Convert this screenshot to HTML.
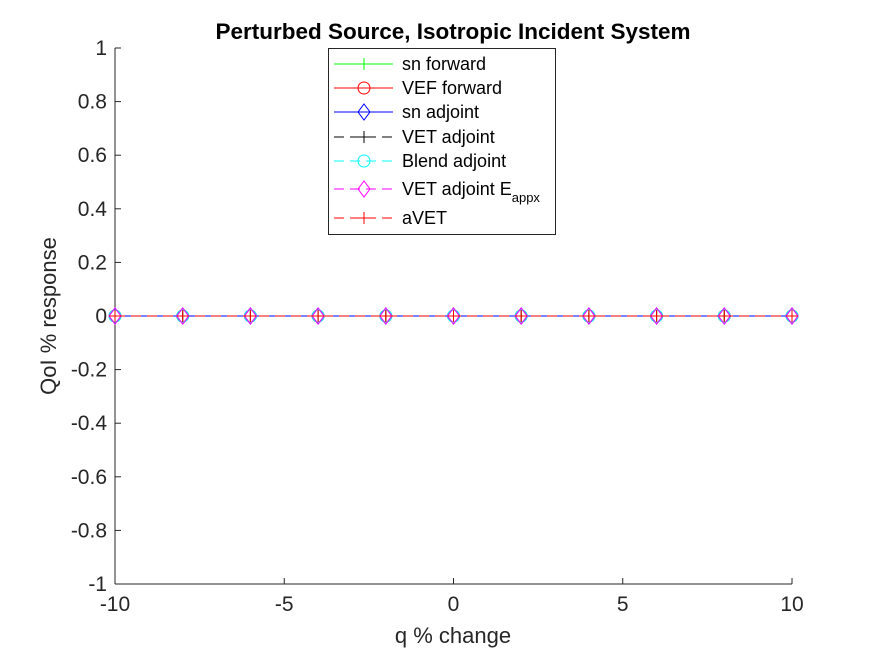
<!DOCTYPE html>
<html><head><meta charset="utf-8"><style>
body{margin:0;background:#fff}
svg{display:block;font-family:"Liberation Sans",sans-serif}
</style></head><body>
<svg id="c" width="875" height="656">
<rect width="875" height="656" fill="#fff"/>
<text x="453" y="39" font-size="22.5" font-weight="bold" text-anchor="middle">Perturbed Source, Isotropic Incident System</text>
<g id="axes"></g>
<g id="series"></g>
<g id="legend"></g>
<text x="453" y="643" font-size="22" text-anchor="middle" fill="#262626">q % change</text>
<text transform="translate(56,316) rotate(-90)" font-size="22" text-anchor="middle" fill="#262626">QoI % response</text>
</svg>
<script>
const xVals=[-10,-8,-6,-4,-2,0,2,4,6,8,10];
const snForward=[0,0,0,0,0,0,0,0,0,0,0];
const vefForward=[0,0,0,0,0,0,0,0,0,0,0];
const snAdjoint=[0,0,0,0,0,0,0,0,0,0,0];
const vetAdjoint=[0,0,0,0,0,0,0,0,0,0,0];
const blendAdjoint=[0,0,0,0,0,0,0,0,0,0,0];
const vetAdjointEappx=[0,0,0,0,0,0,0,0,0,0,0];
const aVET=[0,0,0,0,0,0,0,0,0,0,0];
const xTicks=[-10,-5,0,5,10];
const yTicks=[-1,-0.8,-0.6,-0.4,-0.2,0,0.2,0.4,0.6,0.8,1];
const xTickLabels=["-10","-5","0","5","10"];
const yTickLabels=["-1","-0.8","-0.6","-0.4","-0.2","0","0.2","0.4","0.6","0.8","1"];
const L=115,R=792,T=48,B=584;
const sx=v=>L+(v+10)/20*(R-L);
const sy=v=>B-(v+1)/2*(B-T);
const NS="http://www.w3.org/2000/svg";
function mk(t,a,p){const e=document.createElementNS(NS,t);for(const k in a)e.setAttribute(k,a[k]);p.appendChild(e);return e;}
const ax=document.getElementById('axes');
let e=mk('line',{x1:L,y1:B,x2:R,y2:B,stroke:'#262626'},ax);


e=mk('line',{x1:L,y1:T,x2:L,y2:B,stroke:'#262626'},ax);


xTicks.forEach((v,i)=>{const x=sx(v);mk('line',{x1:x,y1:B,x2:x,y2:B-6,stroke:'#262626'},ax);
const t=mk('text',{x:x,y:B+27,'font-size':21,'text-anchor':'middle',fill:'#262626'},ax);t.textContent=xTickLabels[i];

});
yTicks.forEach((v,i)=>{const y=sy(v);mk('line',{x1:L,y1:y,x2:L+6,y2:y,stroke:'#262626'},ax);
const t=mk('text',{x:L-8,y:y+7,'font-size':21,'text-anchor':'end',fill:'#262626'},ax);t.textContent=yTickLabels[i];

});
function marker(g,m,x,y,c){
 if(m==='+'){mk('path',{d:`M${x-6},${y}H${x+6}M${x},${y-6}V${y+6}`,stroke:c,fill:'none'},g);}
 else if(m==='o'){mk('circle',{cx:x,cy:y,r:6,stroke:c,fill:'none'},g);}
 else if(m==='d'){mk('path',{d:`M${x},${y-8}L${x+6},${y}L${x},${y+8}L${x-6},${y}Z`,stroke:c,fill:'none'},g);}
}
const series=[
 {n:'sn forward',d:snForward,c:'#00ff00',m:'+',dash:''},
 {n:'VEF forward',d:vefForward,c:'#ff0000',m:'o',dash:''},
 {n:'sn adjoint',d:snAdjoint,c:'#0000ff',m:'d',dash:''},
 {n:'VET adjoint',d:vetAdjoint,c:'#000000',m:'+',dash:'10,6'},
 {n:'Blend adjoint',d:blendAdjoint,c:'#00ffff',m:'o',dash:'10,6'},
 {n:'VET adjoint E',d:vetAdjointEappx,c:'#ff00ff',m:'d',dash:'10,6'},
 {n:'aVET',d:aVET,c:'#ff0000',m:'+',dash:'10,6'}
];
const sg=document.getElementById('series');
series.forEach(s=>{const g=mk('g',{},sg);
 
 
 const pts=xVals.map((x,i)=>sx(x)+','+sy(s.d[i])).join(' ');
 const a={points:pts,fill:'none',stroke:s.c};if(s.dash)a['stroke-dasharray']=s.dash;
 mk('polyline',a,g);
 xVals.forEach((x,i)=>marker(g,s.m,sx(x),sy(s.d[i]),s.c));});
const lg=document.getElementById('legend');
mk('rect',{x:328.5,y:48.5,width:227,height:186,fill:'#fff',stroke:'#262626'},lg);
const ly=[64,88,112,137,161,189,218];
series.forEach((s,i)=>{const y=ly[i];const g=mk('g',{},lg);
 
 
 const a={x1:334,y1:y,x2:393,y2:y,stroke:s.c};if(s.dash)a['stroke-dasharray']='10,6';
 mk('line',a,g);marker(g,s.m,364,y,s.c);
 const t=mk('text',{x:402,y:y+6,'font-size':18,fill:'#000'},g);t.textContent=s.n;
 if(i===5){const sub=mk('tspan',{dy:7,'font-size':13},t);sub.textContent='appx';}
});
</script>
</body></html>
